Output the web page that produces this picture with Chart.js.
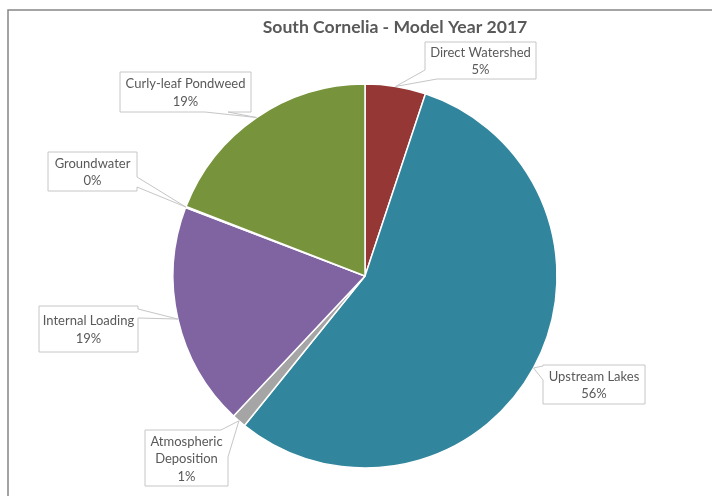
<!DOCTYPE html>
<html>
<head>
<meta charset="utf-8">
<title>South Cornelia - Model Year 2017</title>
<script src="https://cdn.jsdelivr.net/npm/chart.js@4.4.1/dist/chart.umd.min.js"></script>
<style>
  html, body { margin: 0; padding: 0; background: #fff; }
  canvas { display: block; }
</style>
</head>
<body>
<canvas id="loadPie" width="712" height="496"></canvas>
<script>
// sources of phosphorus load, clockwise from 12 o'clock
const categories = ['Direct Watershed', 'Upstream Lakes', 'Atmospheric Deposition', 'Internal Loading', 'Groundwater', 'Curly-leaf Pondweed'];
const shares = [5.1, 55.7, 1.2, 18.8, 0.1, 19.1];
const sliceColors = ['#953735', '#31859c', '#a5a5a5', '#8064a2', '#4bacc6', '#77933c'];
const chartTitle = 'South Cornelia - Model Year 2017';

// callout boxes: [x, y, w, h] and the two points where the pointer leaves the box
const calloutBoxes = [
    [425, 42, 111, 37],
    [543, 365, 102, 39],
    [145, 430, 83, 56],
    [39, 306, 99, 46],
    [48, 152, 89, 39],
    [120, 72, 131, 40]
];
const calloutBases = [
    [[437, 79], [425, 70]],
    [[543, 380], [543, 366]],
    [[221, 430], [228, 457]],
    [[138, 309], [138, 318]],
    [[137, 177], [137, 187]],
    [[205, 112], [228, 112]]
];

function labelLines(i) {
    const name = categories[i] === 'Atmospheric Deposition' ? ['Atmospheric', 'Deposition'] : [categories[i]];
    return name.concat([Math.round(shares[i]) + '%']);
}

function perimPos(b, p) {
    const [x, y, w, h] = b;
    if (Math.abs(p[1] - y) < 1) return p[0] - x;
    if (Math.abs(p[0] - (x + w)) < 1) return w + (p[1] - y);
    if (Math.abs(p[1] - (y + h)) < 1) return w + h + (x + w - p[0]);
    return 2 * w + h + (y + h - p[1]);
}

function calloutPath(ctx, b, bases, tip) {
    const [x, y, w, h] = b;
    const P = 2 * (w + h);
    const corners = [[0, [x, y]], [w, [x + w, y]], [w + h, [x + w, y + h]], [2 * w + h, [x, y + h]]];
    let a = bases[0], c = bases[1];
    let sa = perimPos(b, a), sc = perimPos(b, c);
    if ((sc - sa + P) % P > P / 2) { [a, c] = [c, a]; [sa, sc] = [sc, sa]; }
    const span = (sa - sc + P) % P;
    const pts = [c];
    corners
        .map(k => [(k[0] - sc + P) % P, k[1]])
        .filter(k => k[0] > 0 && k[0] < span)
        .sort((m, n) => m[0] - n[0])
        .forEach(k => pts.push(k[1]));
    pts.push(a, tip);
    ctx.beginPath();
    ctx.moveTo(pts[0][0], pts[0][1]);
    for (let i = 1; i < pts.length; i++) ctx.lineTo(pts[i][0], pts[i][1]);
    ctx.closePath();
}

const frameAndLabels = {
    id: 'frameAndLabels',
    beforeDraw(chart) {
        const ctx = chart.ctx;
        ctx.save();
        ctx.fillStyle = '#fff';
        ctx.fillRect(0, 0, chart.width, chart.height);
        ctx.strokeStyle = '#868686';
        ctx.lineWidth = 1.5;
        ctx.beginPath();
        ctx.moveTo(8, chart.height + 2);
        ctx.lineTo(8, 10);
        ctx.lineTo(chart.width + 2, 10);
        ctx.stroke();
        ctx.fillStyle = '#595959';
        ctx.font = 'bold 17.6px Lato';
        ctx.textAlign = 'center';
        ctx.textBaseline = 'middle';
        ctx.fillText(chartTitle, 395, 27);
        ctx.restore();
    },
    afterDatasetsDraw(chart) {
        const ctx = chart.ctx;
        const arcs = chart.getDatasetMeta(0).data;
        ctx.save();
        arcs.forEach((arc, i) => {
            const mid = (arc.startAngle + arc.endAngle) / 2;
            const tip = [arc.x + Math.cos(mid) * arc.outerRadius, arc.y + Math.sin(mid) * arc.outerRadius];
            calloutPath(ctx, calloutBoxes[i], calloutBases[i], tip);
            ctx.fillStyle = '#fff';
            ctx.fill();
            ctx.strokeStyle = '#c6c6c6';
            ctx.lineWidth = 1;
            ctx.stroke();
            const [x, y, w, h] = calloutBoxes[i];
            const lines = labelLines(i);
            const lh = 17.5;
            let ty = y + h / 2 - (lines.length - 1) * lh / 2 + 1;
            ctx.fillStyle = '#595959';
            ctx.font = '13px Lato';
            ctx.textAlign = 'center';
            ctx.textBaseline = 'middle';
            lines.forEach(t => { ctx.fillText(t, x + w / 2, ty); ty += lh; });
        });
        ctx.restore();
    }
};

new Chart(document.getElementById('loadPie'), {
    type: 'pie',
    data: {
        labels: categories,
        datasets: [{
            data: shares,
            backgroundColor: sliceColors,
            borderColor: '#fff',
            borderWidth: 1.5,
            hoverOffset: 0
        }]
    },
    options: {
        responsive: false,
        animation: false,
        radius: 192,
        layout: {
            padding: { left: 18, right: 0, top: 56, bottom: 0 }
        },
        plugins: {
            legend: { display: false },
            title: { display: false },
            tooltip: { enabled: false }
        }
    },
    plugins: [frameAndLabels]
});
</script>
</body>
</html>
